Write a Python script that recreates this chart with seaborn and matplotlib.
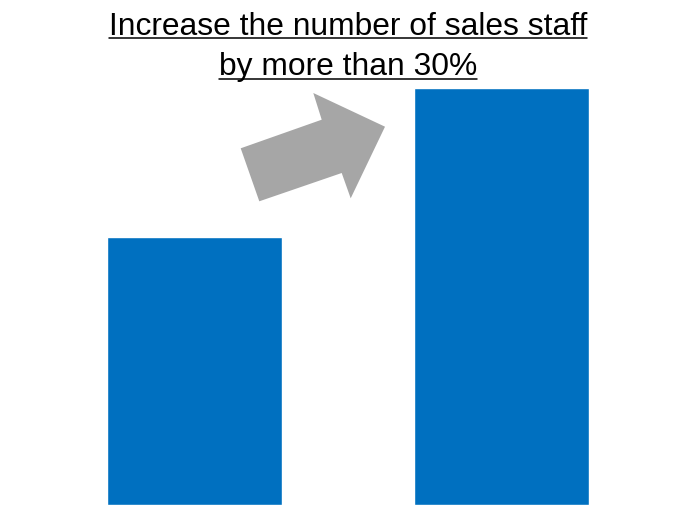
import matplotlib
matplotlib.use("Agg")
import matplotlib.pyplot as plt
from matplotlib.patches import Polygon
from matplotlib.lines import Line2D
import seaborn as sns
import pandas as pd

# Staff headcount before and after the planned increase
periods = ["Current", "Planned"]
staff = [9, 14]
title_lines = ["Increase the number of sales staff", "by more than 30%"]

BAR_COLOR = "#0070C0"
ARROW_COLOR = "#A6A6A6"

sns.set_theme(style="white")
plt.rcParams["font.family"] = ["Liberation Sans", "DejaVu Sans"]

W, H = 675, 506
fig = plt.figure(figsize=(W / 100, H / 100), dpi=100)
ax = fig.add_axes([0, 0, 1, 1])

df = pd.DataFrame({"period": periods, "staff": staff})
sns.barplot(data=df, x="period", y="staff", color=BAR_COLOR, saturation=1,
            width=0.57, ax=ax)

ax.set_xlim(-0.6336, 1.565)
ax.set_ylim(0, 17)
ax.set_axis_off()

# Block arrow between the bars (axes-fraction coordinates)
arrow_px = [(240.7, 149.3), (321.7, 120.7), (313.3, 94.0), (385.0, 127.7),
            (350.7, 199.3), (341.7, 174.0), (259.3, 202.3)]
arrow_pts = [(x / W, 1 - y / H) for x, y in arrow_px]
ax.add_patch(Polygon(arrow_pts, closed=True, transform=ax.transAxes,
                     facecolor=ARROW_COLOR, edgecolor="none", zorder=5))

# Underlined two-line heading
baselines = [35, 75.5]
fig.canvas.draw()
renderer = fig.canvas.get_renderer()
for line, base in zip(title_lines, baselines):
    t = fig.text(0.5155, 1 - base / H, line, ha="center", va="baseline",
                 fontsize=22.9, color="black")
    bb = t.get_window_extent(renderer=renderer)
    uy = 1 - (base + 4) / H
    fig.add_artist(Line2D([bb.x0 / W, bb.x1 / W], [uy, uy],
                          transform=fig.transFigure, color="black",
                          linewidth=1.1))

fig.savefig("out.png", dpi=100)
